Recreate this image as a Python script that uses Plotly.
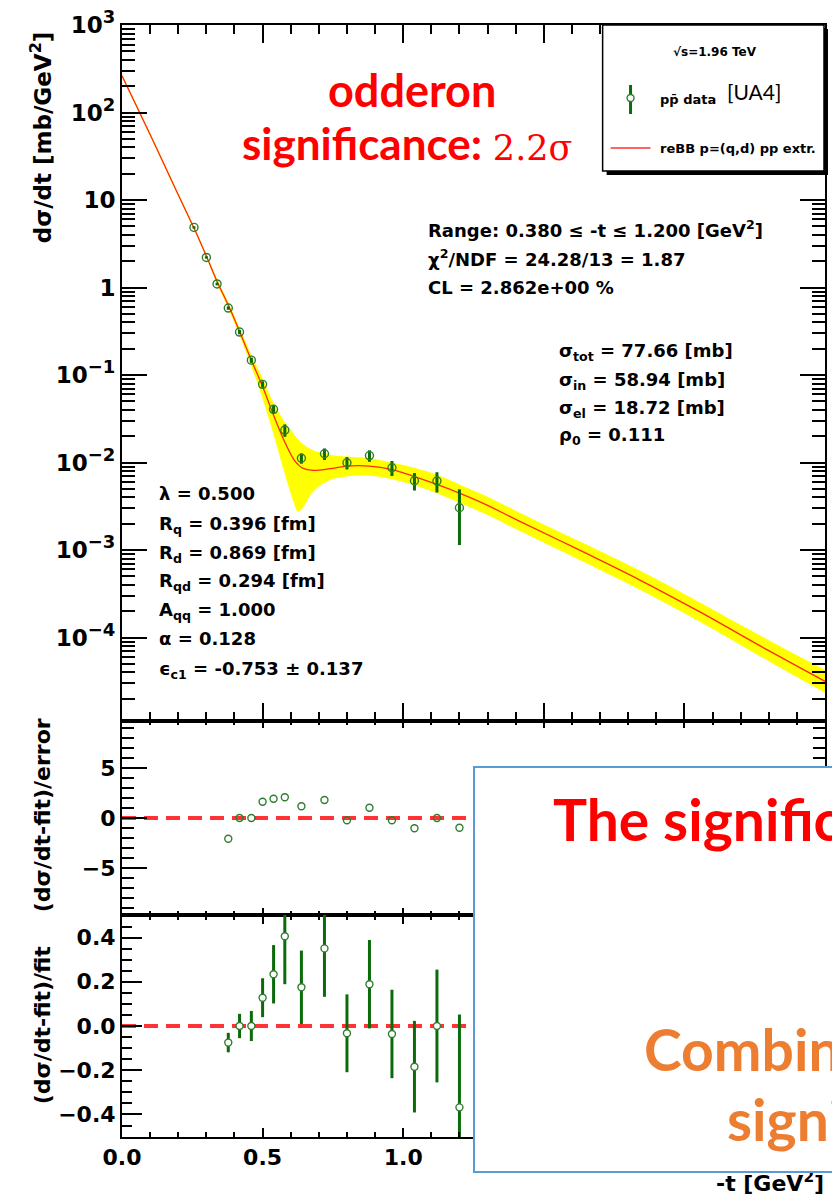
import plotly.graph_objects as go

# ---------------- data ----------------
curve_t = [0.00, 0.10, 0.20, 0.256, 0.30, 0.338, 0.378, 0.418, 0.46, 0.50, 0.539, 0.578, 0.61, 0.625,
           0.64, 0.68, 0.74, 0.80, 0.88, 0.96, 1.04, 1.12, 1.20, 1.30, 1.40, 1.60, 1.84, 2.05, 2.30, 2.50]
fit_curve = [263, 56.2, 11.5, 4.79, 2.29, 1.175, 0.631, 0.316, 0.148, 0.0741, 0.0347, 0.0174, 0.01096, 0.00955,
             0.00871, 0.00813, 0.00851, 0.00912, 0.00912, 0.00832, 0.00692, 0.00562, 0.00447, 0.00324, 0.00224,
             0.0011, 0.000457, 0.0002, 7.08e-5, 3.16e-5]
band_upper = [275, 58.9, 12.0, 5.01, 2.40, 1.26, 0.676, 0.347, 0.170, 0.0912, 0.0479, 0.0295, 0.0214, 0.0186,
              0.0166, 0.0138, 0.0123, 0.0117, 0.0112, 0.0100, 0.00871, 0.00724, 0.00562, 0.00407, 0.00282,
              0.00138, 0.000589, 0.000257, 9.33e-5, 4.27e-5]
band_lower = [251, 53.7, 11.0, 4.57, 2.19, 1.10, 0.575, 0.282, 0.126, 0.0537, 0.0209, 0.00759, 0.00355, 0.00275,
              0.00295, 0.00468, 0.00631, 0.00692, 0.00708, 0.00646, 0.0055, 0.00447, 0.00347, 0.00251, 0.00174,
              0.000851, 0.000355, 0.000155, 5.37e-5, 2.34e-5]

data_t = [0.256, 0.300, 0.338, 0.378, 0.418, 0.460, 0.500, 0.539, 0.579, 0.638, 0.720, 0.800, 0.880,
          0.960, 1.040, 1.120, 1.200]
data_y = [4.87, 2.21, 1.10, 0.583, 0.31, 0.148, 0.0783, 0.0406, 0.0235, 0.0112, 0.0126, 0.00995, 0.0120,
          0.00873, 0.00619, 0.00615, 0.00304]
data_err = [0.15, 0.07, 0.04, 0.026, 0.017, 0.010, 0.0065, 0.0046, 0.0038, 0.0015, 0.0019, 0.0016, 0.0018,
            0.0017, 0.0014, 0.0016, 0.0019]

resid_t = [0.378, 0.418, 0.460, 0.500, 0.539, 0.579, 0.638, 0.720, 0.800, 0.880, 0.960, 1.040, 1.120, 1.200]
pull = [-2.07, 0.0, 0.0, 1.63, 1.93, 2.07, 1.17, 1.80, -0.23, 1.03, -0.23, -1.03, 0.0, -0.97]
rel_resid = [-0.075, 0.0, 0.0, 0.128, 0.234, 0.406, 0.175, 0.351, -0.033, 0.189, -0.036, -0.184, 0.0, -0.368]
rel_err = [0.044, 0.055, 0.068, 0.088, 0.132, 0.217, 0.166, 0.219, 0.176, 0.200, 0.200, 0.207, 0.255, 0.420]

y_tickvals = [1e-4, 1e-3, 1e-2, 1e-1, 1, 10, 100, 1000]
SUP = "<sup><span style='font-size:18px'>{}</span></sup>"
y_ticktext = ["10" + SUP.format("\u22124"), "10" + SUP.format("\u22123"), "10" + SUP.format("\u22122"),
              "10" + SUP.format("\u22121"), "1", "10", "10" + SUP.format("2"), "10" + SUP.format("3")]
pull_tickvals = [-5, 0, 5]
pull_ticktext = ["\u22125", "0", "5"]
rel_tickvals = [-0.4, -0.2, 0.0, 0.2, 0.4]
rel_ticktext = ["\u22120.4", "\u22120.2", "0.0", "0.2", "0.4"]

# ---------------- geometry helpers ----------------
W, H = 832, 1197
ML, MR, MT, MB = 122, 5, 25, 60
PW, PH = W - ML - MR, H - MT - MB


def xp(px):
    return (px - ML) / PW


def yp(py):
    return (H - MB - py) / PH


GREEN_BAR = "#0b6b0b"
GREEN_MK = "#2f7d2f"
BOLD = dict(family="DejaVu Sans", color="black", weight="bold")

fig = go.Figure()

# ---- top panel ----
fig.add_trace(go.Scatter(x=curve_t, y=band_lower, mode="lines", line=dict(width=0, color="#ffff00", shape="spline"),
                         xaxis="x", yaxis="y", showlegend=False, hoverinfo="skip"))
fig.add_trace(go.Scatter(x=curve_t, y=band_upper, mode="lines", line=dict(width=0, color="#ffff00", shape="spline"),
                         fill="tonexty", fillcolor="#ffff00", xaxis="x", yaxis="y", showlegend=False, hoverinfo="skip"))
fig.add_trace(go.Scatter(x=curve_t, y=fit_curve, mode="lines", line=dict(width=1.3, color="#ff2a10", shape="spline"),
                         xaxis="x", yaxis="y", showlegend=False))
fig.add_trace(go.Scatter(x=data_t, y=data_y, mode="markers",
                         error_y=dict(type="data", array=data_err, color=GREEN_BAR, thickness=3, width=0),
                         marker=dict(symbol="circle-open", size=8, color=GREEN_MK, line=dict(width=1.4)),
                         xaxis="x", yaxis="y", showlegend=False))

# ---- middle panel ----
fig.add_trace(go.Scatter(x=resid_t, y=pull, mode="markers",
                         marker=dict(symbol="circle-open", size=7, color=GREEN_MK, line=dict(width=1.4)),
                         xaxis="x2", yaxis="y2", showlegend=False))

# ---- bottom panel ----
fig.add_trace(go.Scatter(x=resid_t, y=rel_resid, mode="markers",
                         error_y=dict(type="data", array=rel_err, color=GREEN_BAR, thickness=3, width=0),
                         marker=dict(symbol="circle", size=7, color="white", line=dict(width=1.4, color=GREEN_MK)),
                         xaxis="x3", yaxis="y3", showlegend=False))

minor_log = [k * 10 ** n for n in range(-5, 3) for k in range(2, 10) if k * 10 ** n > 1.12e-5]

axis_common = dict(showline=True, linewidth=2, linecolor="black", mirror="allticks", ticks="inside",
                   tickwidth=2, tickcolor="black", showgrid=False, zeroline=False)
d_top = yp(721)
d_mid = yp(915)

fig.update_layout(
    width=W, height=H,
    margin=dict(l=ML, r=MR, t=MT, b=MB),
    paper_bgcolor="white", plot_bgcolor="white",
    showlegend=False,
    xaxis=dict(domain=[0, 1], range=[0, 2.5], anchor="y", showticklabels=False, tick0=0, dtick=0.5, ticklen=18,
               minor=dict(ticks="inside", ticklen=9, dtick=0.1, tick0=0, tickwidth=2, tickcolor="black"),
               **axis_common),
    yaxis=dict(domain=[d_top, 1], type="log", range=[-4.954, 3.001], anchor="x", tickmode="array",
               tickvals=y_tickvals, ticktext=y_ticktext, ticklen=25,
               tickfont=dict(size=23, **BOLD),
               minor=dict(ticks="inside", ticklen=13, tickmode="array", tickvals=minor_log, tickwidth=2,
                          tickcolor="black"),
               **axis_common),
    xaxis2=dict(domain=[0, 1], range=[0, 2.5], anchor="y2", matches="x", showticklabels=False, tick0=0, dtick=0.5,
                ticklen=7, minor=dict(ticks="inside", ticklen=4, dtick=0.1, tick0=0, tickwidth=2, tickcolor="black"),
                **axis_common),
    yaxis2=dict(domain=[d_mid, d_top], range=[-9.7, 9.7], anchor="x2", tickmode="array",
                tickvals=pull_tickvals, ticktext=pull_ticktext, ticklen=25,
                tickfont=dict(size=22, **BOLD),
                minor=dict(ticks="inside", ticklen=12, dtick=1, tick0=0, tickwidth=2, tickcolor="black"),
                **axis_common),
    xaxis3=dict(domain=[0, 1], range=[0, 2.5], anchor="y3", matches="x", showticklabels=True, tick0=0, dtick=0.5,
                tickformat=".1f", ticklen=9, tickfont=dict(size=22, **BOLD),
                minor=dict(ticks="inside", ticklen=5, dtick=0.1, tick0=0, tickwidth=2, tickcolor="black"),
                **axis_common),
    yaxis3=dict(domain=[0, d_mid], range=[-0.502, 0.502], anchor="x3", tickmode="array",
                tickvals=rel_tickvals, ticktext=rel_ticktext, ticklen=20,
                tickfont=dict(size=22, **BOLD),
                minor=dict(ticks="inside", ticklen=10, dtick=0.05, tick0=0, tickwidth=2, tickcolor="black"),
                **axis_common),
)

shapes = []
# zero reference lines in residual panels
for xr, yr in (("x2 domain", "y2"), ("x3 domain", "y3")):
    shapes.append(dict(type="line", xref=xr, yref=yr, x0=0, x1=1, y0=0, y1=0, layer="below",
                       line=dict(color="#ff3333", width=4, dash="14px,8px")))
# legend box with shadow
shapes.append(dict(type="rect", xref="paper", yref="paper", x0=xp(608), x1=xp(830), y0=yp(175), y1=yp(29),
                   fillcolor="black", line=dict(width=0), layer="above"))
shapes.append(dict(type="rect", xref="paper", yref="paper", x0=xp(604), x1=xp(826), y0=yp(171), y1=yp(25),
                   fillcolor="white", line=dict(color="black", width=1.5), layer="above"))
# legend samples
shapes.append(dict(type="line", xref="paper", yref="paper", x0=xp(632), x1=xp(632), y0=yp(114), y1=yp(85),
                   line=dict(color=GREEN_BAR, width=3), layer="above"))
shapes.append(dict(type="circle", xref="paper", yref="paper", x0=xp(628.5), x1=xp(635.5), y0=yp(101.5),
                   y1=yp(94.5), fillcolor="white", line=dict(color=GREEN_MK, width=1.4), layer="above"))
shapes.append(dict(type="line", xref="paper", yref="paper", x0=xp(612), x1=xp(652), y0=yp(148), y1=yp(148),
                   line=dict(color="#ff3030", width=1.3), layer="above"))
fig.update_layout(shapes=shapes)

ann = []


def add_text(text, px, py, size, xanchor="left", yanchor="middle", font=None, angle=0, **kw):
    f = dict(size=size, **(font if font is not None else BOLD))
    ann.append(dict(text=text, x=xp(px), y=yp(py), xref="paper", yref="paper", xanchor=xanchor, yanchor=yanchor,
                    showarrow=False, font=f, textangle=angle, **kw))


# axis titles
add_text("d\u03c3/dt [mb/GeV<sup>2</sup>]", 41, 137, 23, xanchor="center", angle=-90)
add_text("(d\u03c3/dt-fit)/error", 42, 815, 22, xanchor="center", angle=-90)
add_text("(d\u03c3/dt-fit)/fit", 42, 1025, 22, xanchor="center", angle=-90)
add_text("-t [GeV<sup>2</sup>]", 828, 1182, 22, xanchor="right")

# fit info
FS = 18
add_text("Range: 0.380 \u2264 -t \u2264 1.200 [GeV<sup>2</sup>]", 427, 229, FS)
add_text("\u03c7<sup>2</sup>/NDF = 24.28/13 = 1.87", 427, 258, FS)
add_text("CL = 2.862e+00 %", 427, 288, FS)
add_text("\u03c3<sub>tot</sub> = 77.66 [mb]", 558, 352, FS)
add_text("\u03c3<sub>in</sub> = 58.94 [mb]", 558, 381, FS)
add_text("\u03c3<sub>el</sub> = 18.72 [mb]", 558, 409, FS)
add_text("\u03c1<sub>0</sub> = 0.111", 558, 436, FS)
for txt, yy in (("\u03bb = 0.500", 493), ("R<sub>q</sub> = 0.396 [fm]", 525), ("R<sub>d</sub> = 0.869 [fm]", 554),
                ("R<sub>qd</sub> = 0.294 [fm]", 582), ("A<sub>qq</sub> = 1.000", 611), ("\u03b1 = 0.128", 638),
                ("\u03f5<sub>c1</sub> = -0.753 \u00b1 0.137", 670)):
    add_text(txt, 157, yy, FS)

# legend texts
add_text("\u221as=1.96 TeV", 717, 52, 12, xanchor="center")
add_text("pp\u0304 data", 660, 99, 13)
add_text("[UA4]", 727, 92, 21, font=dict(family="Lato", color="black"))
add_text("reBB p=(q,d) pp extr.", 660, 149, 13)

# red significance note
RED = dict(family="Lato", color="#ff0000", weight="bold")
add_text("odderon", 413, 90, 45, xanchor="center", font=RED)
add_text("significance: <span style='font-family:DejaVu Serif;font-weight:normal;font-size:35px'>2.2\u03c3</span>",
         408, 143, 44, xanchor="center", font=RED)

# covering box (drawn after the x title so that it hides its upper part)
ann.append(dict(text=" ", x=xp(474), y=yp(766), xref="paper", yref="paper", xanchor="left", yanchor="top",
                showarrow=False, width=440, height=403, bgcolor="white", bordercolor="#5B9BD5", borderwidth=2,
                borderpad=0, font=dict(size=10)))
add_text("The significance of the odderon", 552, 819, 57, font=RED)
ORANGE = dict(family="Lato", color="#ED7D31", weight="bold")
add_text("Combined odderon", 643, 1049, 57, font=ORANGE)
add_text("significance", 727, 1119, 57, font=ORANGE)

fig.update_layout(annotations=ann)
fig.write_html("out.html")
